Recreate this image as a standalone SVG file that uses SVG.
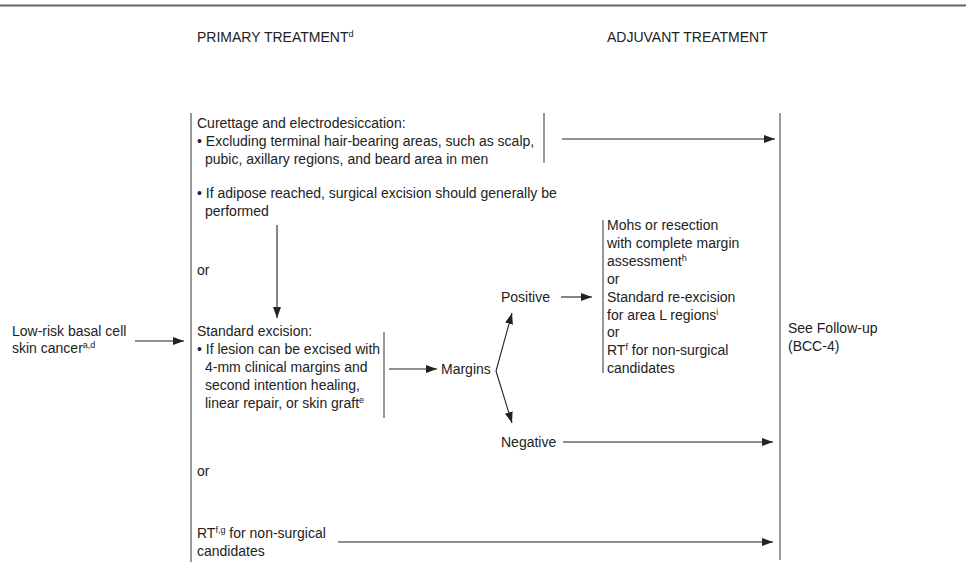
<svg xmlns="http://www.w3.org/2000/svg" width="966" height="572" viewBox="0 0 966 572">
<defs>
<marker id="ah" markerWidth="11" markerHeight="8" refX="11" refY="4" orient="auto" markerUnits="userSpaceOnUse">
<path d="M0,0 L11,4 L0,8 Z" fill="#222"/>
</marker>
<style>
text{font-family:"Liberation Sans",Arial,sans-serif;font-size:14px;fill:#222}
.sup{font-size:9px}
.ln{stroke:#555;stroke-width:1.2;fill:none}
.ar{stroke:#222;stroke-width:1.1;fill:none;marker-end:url(#ah)}
</style>
</defs>
<rect width="966" height="572" fill="#fff"/>
<line x1="0" y1="5.5" x2="966" y2="5.5" stroke="#666" stroke-width="2"/>
<g id="headers">
<text x="197" y="42">PRIMARY TREATMENT<tspan class="sup" dy="-5">d</tspan></text>
<text x="607" y="42">ADJUVANT TREATMENT</text>
</g>
<g id="brackets">
<line class="ln" x1="191" y1="113" x2="191" y2="562"/>
<line class="ln" x1="544" y1="113" x2="544" y2="163"/>
<line class="ln" x1="384" y1="332" x2="384" y2="418"/>
<line class="ln" x1="603" y1="220" x2="603" y2="373"/>
<line class="ln" x1="780" y1="113" x2="780" y2="560"/>
</g>
<g id="node-start">
<text x="12" y="336">Low-risk basal cell</text>
<text x="12" y="353">skin cancer<tspan class="sup" dy="-5">a,d</tspan></text>
</g>
<g id="node-curettage">
<text x="197" y="128">Curettage and electrodesiccation:</text>
<text x="197" y="146">• Excluding terminal hair-bearing areas, such as scalp,</text>
<text x="205" y="164">pubic, axillary regions, and beard area in men</text>
<text x="197" y="198">• If adipose reached, surgical excision should generally be</text>
<text x="205" y="216">performed</text>
</g>
<g id="or1"><text x="197" y="275">or</text></g>
<g id="node-excision">
<text x="197" y="336">Standard excision:</text>
<text x="197" y="354">• If lesion can be excised with</text>
<text x="205" y="372">4-mm clinical margins and</text>
<text x="205" y="390">second intention healing,</text>
<text x="205" y="408">linear repair, or skin graft<tspan class="sup" dy="-5">e</tspan></text>
</g>
<g id="node-margins"><text x="441" y="374">Margins</text></g>
<g id="node-positive"><text x="501" y="302">Positive</text></g>
<g id="node-negative"><text x="501" y="447">Negative</text></g>
<g id="node-adjuvant">
<text x="607" y="230">Mohs or resection</text>
<text x="607" y="248">with complete margin</text>
<text x="607" y="266">assessment<tspan class="sup" dy="-5">h</tspan></text>
<text x="607" y="284">or</text>
<text x="607" y="302">Standard re-excision</text>
<text x="607" y="320">for area L regions<tspan class="sup" dy="-5">i</tspan></text>
<text x="607" y="337">or</text>
<text x="607" y="355">RT<tspan class="sup" dy="-5">f</tspan><tspan dy="5"> for non-surgical</tspan></text>
<text x="607" y="373">candidates</text>
</g>
<g id="or2"><text x="197" y="476">or</text></g>
<g id="node-rt">
<text x="197" y="538">RT<tspan class="sup" dy="-5">f,g</tspan><tspan dy="5"> for non-surgical</tspan></text>
<text x="197" y="556">candidates</text>
</g>
<g id="node-followup">
<text x="788" y="333">See Follow-up</text>
<text x="788" y="351">(BCC-4)</text>
</g>
<g id="connectors">
<line class="ar" x1="562" y1="139" x2="775" y2="139"/>
<line class="ar" x1="277" y1="225" x2="277" y2="318"/>
<line class="ar" x1="135" y1="341" x2="184" y2="341"/>
<line class="ar" x1="389" y1="369" x2="437" y2="369"/>
<line class="ar" x1="496" y1="371" x2="512" y2="313"/>
<line class="ar" x1="496" y1="371" x2="512" y2="423"/>
<line class="ar" x1="561" y1="297" x2="592" y2="297"/>
<line class="ar" x1="563" y1="442" x2="773" y2="442"/>
<line class="ar" x1="338" y1="542" x2="773" y2="542"/>
</g>
</svg>
